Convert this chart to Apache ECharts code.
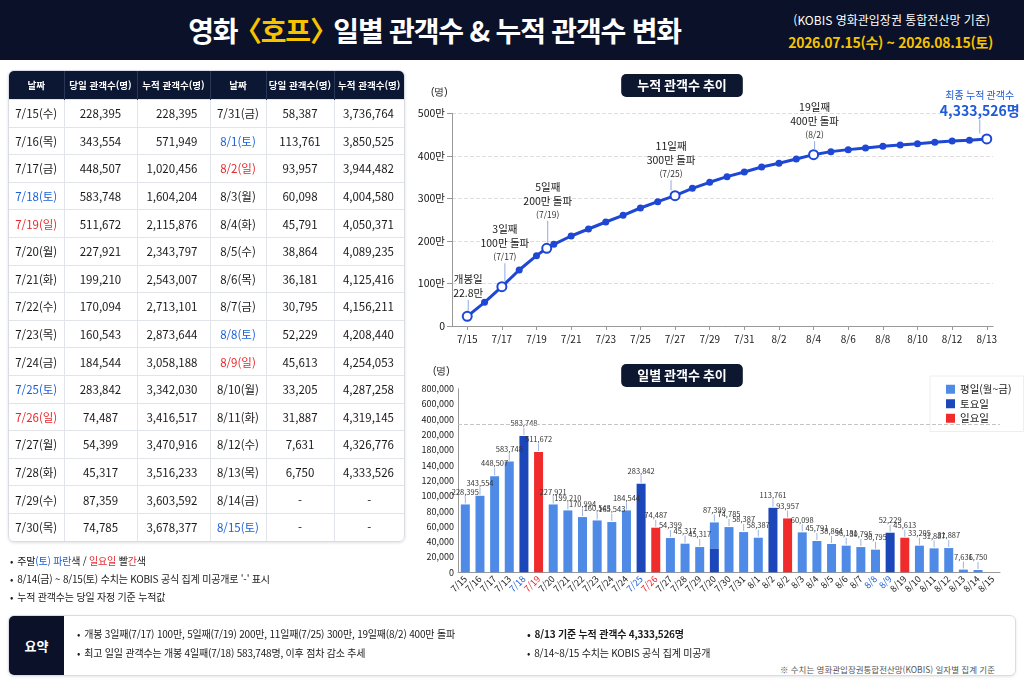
<!DOCTYPE html>
<html lang="ko">
<head>
<meta charset="utf-8">
<title>영화 〈호프〉 일별 관객수 &amp; 누적 관객수 변화</title>
<script src="https://cdn.jsdelivr.net/npm/echarts@6.0.0/dist/echarts.min.js"></script>
<style>
  html, body { margin: 0; padding: 0; }
  body {
    width: 1024px; height: 683px; position: relative; overflow: hidden;
    background: #fff; color: #1a1a1a;
    font-family: "Noto Sans CJK KR", "Noto Sans", sans-serif;
  }
  #chart { position: absolute; left: 0; top: 0; width: 1024px; height: 683px; }
  .head { position: absolute; left: 0; top: 0; width: 1024px; height: 60px; background: #0a1128; }
  .head h1 {
    position: absolute; left: 0; top: 0; width: 869px; margin: 0;
    text-align: center; line-height: 60px; font-size: 28px; font-weight: bold;
    letter-spacing: -1.2px; color: #fff;
  }
  .head h1 em { font-style: normal; color: #f7c300; }
  .head h1 .lb { margin-left: -10px; }
  .head h1 .rb { margin-right: -10px; }
  .head .src { position: absolute; right: 34px; top: 12px; font-size: 12px; line-height: 16px; color: #fff; }
  .head .period { position: absolute; right: 31px; top: 33px; font-size: 14px; line-height: 18px; font-weight: bold; color: #f7c300; letter-spacing: -0.3px; }

  .tbl-wrap {
    position: absolute; left: 8px; top: 70px; width: 395px;
    border: 1px solid #d9dde3; border-radius: 6px; overflow: hidden;
    box-shadow: 0 1px 3px rgba(0,0,0,0.12);
  }
  table { border-collapse: collapse; width: 100%; table-layout: fixed; }
  th {
    background: #0c1733; color: #fff; font-size: 9.5px; font-weight: bold;
    height: 28px; padding: 0; border-right: 1px solid #2a3656;
  }
  th:last-child { border-right: none; }
  td {
    height: 26.6px; padding: 0; font-size: 11.5px; text-align: center;
    border-right: 1px solid #e1e4e8; border-top: 1px solid #e1e4e8;
  }
  td:last-child { border-right: none; }
  td.r { text-align: right; padding-right: 12px; }
  td.r6 { text-align: right; padding-right: 10px; }
  td.dash { text-align: center; padding-right: 0; }
  .sat { color: #1b5fd6; }
  .sun { color: #e8262b; }

  .notes { position: absolute; left: 10px; top: 552px; font-size: 10px; line-height: 18px; letter-spacing: -0.2px; }
  .notes div::before { content: "•"; margin-right: 4px; }

  .sum {
    position: absolute; left: 8px; top: 615px; width: 1006px; height: 59px;
    border: 1px solid #d9dde3; border-radius: 6px; background: #fff;
    box-shadow: 0 1px 3px rgba(0,0,0,0.10); overflow: hidden;
  }
  .sum .tag {
    position: absolute; left: 0; top: 0; width: 55px; height: 59px; background: #0a1128;
    color: #fff; font-size: 13px; font-weight: bold; line-height: 59px; text-align: center;
  }
  .sum .ln { position: absolute; font-size: 10px; line-height: 14px; letter-spacing: -0.2px; white-space: nowrap; }
  .sum .ln::before { content: "•"; margin-right: 4px; }
  .sum .b { font-weight: bold; }
  .foot { position: absolute; right: 26px; top: 663px; font-size: 8.5px; line-height: 12px; color: #555; background: #fff; padding: 0 3px; }
</style>
</head>
<body>
<div id="chart"></div>

<div class="head">
  <h1>영화 <em><span class="lb">〈</span>호프<span class="rb">〉</span></em> 일별 관객수 &amp; 누적 관객수 변화</h1>
  <div class="src">(KOBIS 영화관입장권 통합전산망 기준)</div>
  <div class="period">2026.07.15(수) ~ 2026.08.15(토)</div>
</div>

<div class="tbl-wrap"><table id="tbl"></table></div>

<div class="notes">
  <div>주말<span class="sat">(토) 파란</span>색 / <span class="sun">일요일</span> 빨<span class="sun">간</span>색</div>
  <div>8/14(금) ~ 8/15(토) 수치는 KOBIS 공식 집계 미공개로 '-' 표시</div>
  <div>누적 관객수는 당일 자정 기준 누적값</div>
</div>

<div class="sum">
  <div class="tag">요약</div>
  <div class="ln" style="left:68px; top:11px;">개봉 3일째(7/17) 100만, 5일째(7/19) 200만, 11일째(7/25) 300만, 19일째(8/2) 400만 돌파</div>
  <div class="ln" style="left:68px; top:30px;">최고 일일 관객수는 개봉 4일째(7/18) 583,748명, 이후 점차 감소 추세</div>
  <div class="ln b" style="left:518px; top:11px;">8/13 기준 누적 관객수 4,333,526명</div>
  <div class="ln" style="left:518px; top:30px;">8/14~8/15 수치는 KOBIS 공식 집계 미공개</div>
</div>
<div class="foot">※ 수치는 영화관입장권통합전산망(KOBIS) 일자별 집계 기준</div>

<script>
// ---------- table (KOBIS numbers) ----------
var tableDates = ['7/15(수)', '7/16(목)', '7/17(금)', '7/18(토)', '7/19(일)', '7/20(월)', '7/21(화)', '7/22(수)',
    '7/23(목)', '7/24(금)', '7/25(토)', '7/26(일)', '7/27(월)', '7/28(화)', '7/29(수)', '7/30(목)',
    '7/31(금)', '8/1(토)', '8/2(일)', '8/3(월)', '8/4(화)', '8/5(수)', '8/6(목)', '8/7(금)',
    '8/8(토)', '8/9(일)', '8/10(월)', '8/11(화)', '8/12(수)', '8/13(목)', '8/14(금)', '8/15(토)'];
var dailyAudience = [228395, 343554, 448507, 583748, 511672, 227921, 199210, 170094,
    160543, 184544, 283842, 74487, 54399, 45317, 87359, 74785,
    58387, 113761, 93957, 60098, 45791, 38864, 36181, 30795,
    52229, 45613, 33205, 31887, 7631, 6750, null, null];
var cumulativeAudience = [228395, 571949, 1020456, 1604204, 2115876, 2343797, 2543007, 2713101,
    2873644, 3058188, 3342030, 3416517, 3470916, 3516233, 3603592, 3678377,
    3736764, 3850525, 3944482, 4004580, 4050371, 4089235, 4125416, 4156211,
    4208440, 4254053, 4287258, 4319145, 4326776, 4333526, null, null];
var tableHead = ['날짜', '당일 관객수(명)', '누적 관객수(명)', '날짜', '당일 관객수(명)', '누적 관객수(명)'];

// ---------- cumulative line (unit: 만 명) ----------
var lineTickLabels = ['7/15', '7/17', '7/19', '7/21', '7/23', '7/25', '7/27', '7/29', '7/31',
    '8/2', '8/4', '8/6', '8/8', '8/10', '8/12', '8/13'];
var cumDays = [0, 1, 2, 3, 4, 4.59, 5, 6, 7, 8, 9, 10, 11, 12, 13, 14, 15, 16, 17, 18, 19, 20,
    21, 22, 23, 24, 25, 26, 27, 28, 29, 30];
var cumValues = [22.8, 55.6, 92.5, 131.7, 165.4, 182.6, 192, 211.6, 228, 244.5, 260.2, 277.4, 292.3,
    306.4, 323.7, 337.8, 351.1, 362, 373.8, 382.4, 392.6, 402.8, 409.9, 414.6, 418.5, 422.4,
    425.5, 428.7, 431.8, 435, 436.5, 439.7];
var milestoneAt = [0, 2, 5, 13, 21, 31];
var milestoneText = [
    ['개봉일', '22.8만'],
    ['3일째', '100만 돌파', '(7/17)'],
    ['5일째', '200만 돌파', '(7/19)'],
    ['11일째', '300만 돌파', '(7/25)'],
    ['19일째', '400만 돌파', '(8/2)'],
    ['최종 누적 관객수', '4,333,526명']
];

// ---------- daily bars (as drawn) ----------
var barDates = ['7/15', '7/16', '7/17', '7/13', '7/18', '7/19', '7/20', '7/21', '7/22', '7/23',
    '7/24', '7/24', '7/25', '7/26', '7/27', '7/28', '7/29', '7/20', '7/30', '7/31',
    '8/1', '8/2', '8/2', '8/3', '8/4', '8/5', '8/6', '8/7', '8/8', '8/9',
    '8/19', '8/10', '8/11', '8/12', '8/13', '8/14', '8/15'];
var barHeights = [88700, 100000, 125700, 145000, 178300, 157400, 88700, 80900, 72200, 67800,
    65700, 80900, 115700, 58300, 44800, 37400, 33000, 65200, 59100, 52600,
    45200, 84300, 70400, 52200, 40900, 37000, 34800, 33000, 29600, 51700,
    45200, 34800, 31300, 31700, 3500, 3000, 0];
// w = 평일, s = 토요일, u = 일요일, m = 토요일 아래 + 평일 위
var barKinds = 'wwwwsuwwwwwwsuwwwmwwwsuwwwwwwsuwwwwww'.split('');
var mixedSatPart = 31300;
var barLabels = ['228,395', '343,554', '448,507', '583,748', '583,748', '511,672', '227,921', '199,210', '170,994', '160,543',
    '165,543', '184,544', '283,842', '74,487', '54,399', '45,317', '45,317', '87,399', '74,785', '58,387',
    '58,387', '113,761', '93,957', '60,098', '45,791', '38,864', '36,181', '30,795', '30,795', '52,229',
    '45,613', '33,205', '31,887', '31,887', '7,631', '6,750', ''];
var blueDateIdx = [4, 12, 28, 29];
var redDateIdx = [5, 13];
var barTickLabels = ['0', '20,000', '40,000', '60,000', '80,000', '100,000', '120,000', '140,000',
    '180,000', '200,000', '400,000', '600,000', '800,000'];
var breakLevel = 194000;

// ---------- table html ----------
function fmt(n) {
    return n == null ? '-' : n.toLocaleString('en-US');
}
function dateCell(d) {
    var cls = d.indexOf('(토)') > -1 ? 'sat' : (d.indexOf('(일)') > -1 ? 'sun' : '');
    return '<td class="' + cls + '">' + d + '</td>';
}
var html = '<colgroup><col style="width:55px"><col style="width:73px"><col style="width:73px">' +
    '<col style="width:56px"><col style="width:68px"><col style="width:70px"></colgroup><tr>';
tableHead.forEach(function (h) { html += '<th>' + h + '</th>'; });
html += '</tr>';
for (var r = 0; r < 16; r++) {
    var j = r + 16;
    html += '<tr>' + dateCell(tableDates[r]) +
        '<td>' + fmt(dailyAudience[r]) + '</td>' +
        '<td class="r">' + fmt(cumulativeAudience[r]) + '</td>' +
        dateCell(tableDates[j]) +
        '<td>' + fmt(dailyAudience[j]) + '</td>' +
        '<td class="' + (cumulativeAudience[j] == null ? 'dash' : 'r6') + '">' + fmt(cumulativeAudience[j]) + '</td></tr>';
}
document.getElementById('tbl').innerHTML = html;

// ---------- chart ----------
var chartDom = document.getElementById('chart');
var myChart = echarts.init(chartDom);
var option;

var BLUE = '#1e47d4';
var leadLen = [11, 18, 22, 10, 8, 14];
var leadDx = [1, 3, 1, -4, 1, -7];

var lineData = cumDays.map(function (d, i) {
    var item = { value: [d, cumValues[i]] };
    var k = milestoneAt.indexOf(i);
    if (k > -1) {
        var last = k === milestoneText.length - 1;
        var lines = milestoneText[k];
        var txt = lines.map(function (t, n) {
            var cls = last ? (n === 0 ? 'f1' : 'f2') : (n === 2 ? 's' : 't');
            return '{' + cls + '|' + t + '}';
        }).join('\n') + '\n{lead| }';
        item.symbolSize = 9;
        item.itemStyle = { color: '#fff', borderColor: BLUE, borderWidth: 2 };
        item.label = {
            show: true,
            position: 'top',
            distance: 0,
            offset: [leadDx[k], 0],
            align: 'center',
            formatter: txt,
            rich: {
                t: { fontSize: 10.5, color: '#1a1a1a', lineHeight: 14 },
                s: { fontSize: 8.5, color: '#333', lineHeight: 13 },
                f1: { fontSize: 10, color: '#1f5ad8', lineHeight: 15 },
                f2: { fontSize: 14, fontWeight: 'bold', color: '#1f5ad8', lineHeight: 17 },
                lead: { width: 1, height: leadLen[k], backgroundColor: '#8fa9e2', fontSize: 1 }
            }
        };
    }
    return item;
});

function barSeriesData(kind) {
    return barHeights.map(function (v, i) {
        var k = barKinds[i];
        if (k === 'm') {
            if (kind === 's') return mixedSatPart;
            if (kind === 'w') return v - mixedSatPart;
            return 0;
        }
        return k === kind ? v : 0;
    });
}
function barLabelFor(kind) {
    return function (p) {
        var k = barKinds[p.dataIndex];
        var top = k === 'm' ? 'w' : k;
        if (top !== kind || !barLabels[p.dataIndex]) return '';
        return '{v|' + barLabels[p.dataIndex] + '}\n{l| }';
    };
}
var barLabelStyle = function (kind) {
    return {
        show: true,
        position: 'top',
        distance: 1,
        formatter: barLabelFor(kind),
        rich: {
            v: { fontSize: 7.5, color: '#333', lineHeight: 9 },
            l: { width: 1, height: 7, backgroundColor: '#9db5e3', fontSize: 1 }
        }
    };
};
var barCategory = barDates.map(function (d, i) {
    var c = blueDateIdx.indexOf(i) > -1 ? '#1b5fd6' : (redDateIdx.indexOf(i) > -1 ? '#e8262b' : '#1a1a1a');
    return { value: d, textStyle: { color: c } };
});

var pill = {
    textAlign: 'center',
    backgroundColor: '#0d1730',
    borderRadius: 5,
    padding: [5, 16],
    textStyle: { color: '#fff', fontSize: 13, fontWeight: 'bold', lineHeight: 13 }
};

option = {
    animation: false,
    textStyle: { fontFamily: 'Noto Sans CJK KR' },
    title: [
        Object.assign({ text: '누적 관객수 추이', left: 666, top: 74 }, pill),
        Object.assign({ text: '일별 관객수 추이', left: 666, top: 364 }, pill)
    ],
    legend: {
        data: ['평일(월~금)', '토요일', '일요일'],
        orient: 'vertical',
        left: 930,
        top: 376,
        icon: 'rect',
        itemWidth: 9,
        itemHeight: 9,
        itemGap: 4,
        padding: [8, 12, 8, 16],
        backgroundColor: '#fff',
        borderColor: '#eeeeee',
        borderWidth: 1,
        textStyle: { fontSize: 10.5, color: '#222' }
    },
    graphic: [
        { type: 'text', left: 431, top: 87, style: { text: '(명)', fontSize: 10, fill: '#222' } },
        { type: 'text', left: 433, top: 366, style: { text: '(명)', fontSize: 10, fill: '#222' } }
    ],
    grid: [
        { left: 452, top: 113.3, width: 541, height: 212.7 },
        { left: 458, top: 388.7, width: 542, height: 183.6 }
    ],
    xAxis: [
        {
            type: 'value',
            gridIndex: 0,
            min: -0.88,
            max: 30.36,
            splitLine: { show: false },
            axisLine: { onZero: false, lineStyle: { color: '#999' } },
            axisTick: { show: true, customValues: [0, 2, 4, 6, 8, 10, 12, 14, 16, 18, 20, 22, 24, 26, 28, 30], length: 4, lineStyle: { color: '#999' } },
            axisLabel: {
                customValues: [0, 2, 4, 6, 8, 10, 12, 14, 16, 18, 20, 22, 24, 26, 28, 30],
                formatter: function (v) { return lineTickLabels[Math.round(v / 2)]; },
                fontSize: 10,
                color: '#1a1a1a',
                margin: 8
            }
        },
        {
            type: 'category',
            gridIndex: 1,
            data: barCategory,
            axisLine: { lineStyle: { color: '#999' } },
            axisTick: { show: false },
            axisLabel: { interval: 0, rotate: 45, fontSize: 9, margin: 5 }
        }
    ],
    yAxis: [
        {
            type: 'value',
            gridIndex: 0,
            min: 0,
            max: 500,
            interval: 100,
            axisLine: { show: true, onZero: false, lineStyle: { color: '#999' } },
            splitLine: { lineStyle: { type: 'dashed', color: '#dedede' } },
            axisLabel: {
                formatter: function (v) { return v === 0 ? '0' : v + '만'; },
                fontSize: 10.5,
                color: '#111',
                margin: 7
            }
        },
        {
            type: 'value',
            gridIndex: 1,
            min: 0,
            max: 240000,
            interval: 20000,
            axisLine: { show: true, onZero: false, lineStyle: { color: '#999' } },
            splitLine: { show: false },
            axisLabel: {
                formatter: function (v) { return barTickLabels[Math.round(v / 20000)]; },
                fontSize: 9,
                color: '#1a1a1a',
                margin: 4
            }
        }
    ],
    series: [
        {
            name: '누적 관객수',
            type: 'line',
            xAxisIndex: 0,
            yAxisIndex: 0,
            data: lineData,
            symbol: 'circle',
            symbolSize: 7,
            itemStyle: { color: BLUE },
            lineStyle: { color: BLUE, width: 3 },
            z: 5
        },
        {
            name: '토요일',
            type: 'bar',
            xAxisIndex: 1,
            yAxisIndex: 1,
            stack: 'day',
            barWidth: 9,
            data: barSeriesData('s'),
            itemStyle: { color: '#1c47bb' },
            label: barLabelStyle('s'),
            markLine: {
                silent: true,
                symbol: 'none',
                label: { show: false },
                lineStyle: { type: 'dashed', color: '#c4c4c4', width: 1 },
                data: [{ yAxis: breakLevel }]
            }
        },
        {
            name: '평일(월~금)',
            type: 'bar',
            xAxisIndex: 1,
            yAxisIndex: 1,
            stack: 'day',
            barWidth: 9,
            data: barSeriesData('w'),
            itemStyle: { color: '#4f8be6' },
            label: barLabelStyle('w')
        },
        {
            name: '일요일',
            type: 'bar',
            xAxisIndex: 1,
            yAxisIndex: 1,
            stack: 'day',
            barWidth: 9,
            data: barSeriesData('u'),
            itemStyle: { color: '#f02b2b' },
            label: barLabelStyle('u')
        }
    ]
};

option && myChart.setOption(option);
</script>
</body>
</html>
